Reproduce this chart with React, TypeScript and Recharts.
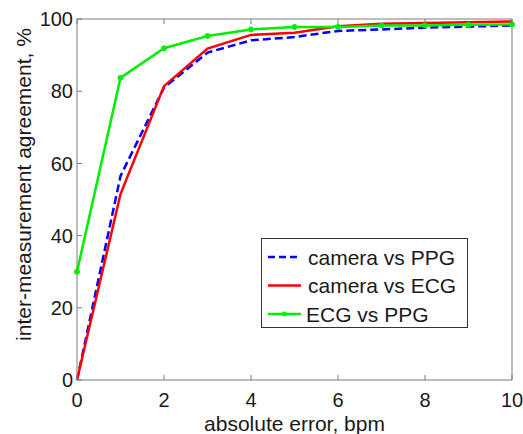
import { Line, LineChart, XAxis, YAxis } from "recharts";

const errorBpm = [0, 1, 2, 3, 4, 5, 6, 7, 8, 9, 10];
const cameraVsPpg = [0, 56.5, 81, 90.7, 94.1, 95.0, 96.7, 97.1, 97.6, 97.9, 98.2];
const cameraVsEcg = [0, 51.5, 81.4, 91.8, 95.6, 96.2, 98.0, 98.7, 98.9, 99.1, 99.3];
const ecgVsPpg = [30, 83.7, 91.9, 95.3, 97.1, 97.8, 97.8, 98.2, 98.2, 98.4, 98.5];

const xTicks = [0, 2, 4, 6, 8, 10];
const yTicks = [0, 20, 40, 60, 80, 100];

const data = errorBpm.map((x, i) => ({
  x,
  cameraVsPpg: cameraVsPpg[i],
  cameraVsEcg: cameraVsEcg[i],
  ecgVsPpg: ecgVsPpg[i],
}));

const FONT = '"Liberation Sans", Arial, Helvetica, sans-serif';
const AXIS = "#7a7a7a";
const TEXT = "#1a1a1a";
const TICK_LEN = 5;

const BottomTick = ({ x, y, payload }: any) => (
  <g>
    <line x1={x} y1={y} x2={x} y2={y - TICK_LEN} stroke={AXIS} />
    <text x={x} y={y + 27} textAnchor="middle" fill={TEXT} fontSize={20} fontFamily={FONT}>
      {payload.value}
    </text>
  </g>
);

const TopTick = ({ x, y }: any) => (
  <line x1={x} y1={y} x2={x} y2={y + TICK_LEN} stroke={AXIS} />
);

const LeftTick = ({ x, y, payload }: any) => (
  <g>
    <line x1={x} y1={y} x2={x + TICK_LEN} y2={y} stroke={AXIS} />
    <text x={x - 4} y={y} dy="0.36em" textAnchor="end" fill={TEXT} fontSize={20} fontFamily={FONT}>
      {payload.value}
    </text>
  </g>
);

const RightTick = ({ x, y }: any) => (
  <line x1={x} y1={y} x2={x - TICK_LEN} y2={y} stroke={AXIS} />
);

const legendItems = [
  { name: "camera vs PPG", color: "#0000ff", dash: "7 4", dot: false },
  { name: "camera vs ECG", color: "#ff0000", dash: undefined, dot: false },
  { name: "ECG vs PPG", color: "#00ee00", dash: undefined, dot: true },
];

const LegendBox = () => (
  <svg width={207} height={90} style={{ display: "block" }}>
    <rect x={0.5} y={0.5} width={206} height={89} fill="#fff" stroke="#333" />
    {legendItems.map((item, i) => {
      const cy = 19 + i * 28.5;
      return (
        <g key={item.name}>
          <line
            x1={7}
            y1={cy}
            x2={40}
            y2={cy}
            stroke={item.color}
            strokeWidth={2.5}
            strokeDasharray={item.dash}
          />
          {item.dot && <circle cx={23.5} cy={cy} r={2.5} fill={item.color} />}
          <text x={i === 2 ? 45 : 47} y={cy} dy="0.36em" fill={TEXT} fontSize={21} fontFamily={FONT}>
            {item.name}
          </text>
        </g>
      );
    })}
  </svg>
);

export default function App() {
  return (
    <div style={{ position: "absolute", left: 0, top: 0, width: 523, height: 434, background: "#fff" }}>
      <LineChart
        width={523}
        height={434}
        data={data}
        margin={{ top: 0, right: 0, bottom: 0, left: 0 }}
      >
        <XAxis
          xAxisId="bottom"
          dataKey="x"
          type="number"
          domain={[0, 10]}
          ticks={xTicks}
          height={54}
          tickSize={0}
          tickMargin={0}
          tickLine={false}
          axisLine={{ stroke: AXIS }}
          tick={<BottomTick />}
          label={{
            value: "absolute error, bpm",
            position: "insideBottom",
            offset: 3,
            fill: TEXT,
            fontSize: 21,
            fontFamily: FONT,
          }}
        />
        <XAxis
          xAxisId="top"
          orientation="top"
          dataKey="x"
          type="number"
          domain={[0, 10]}
          ticks={xTicks}
          height={19}
          tickSize={0}
          tickMargin={0}
          tickLine={false}
          axisLine={{ stroke: AXIS }}
          tick={<TopTick />}
        />
        <YAxis
          yAxisId="left"
          type="number"
          domain={[0, 100]}
          ticks={yTicks}
          width={77}
          tickSize={0}
          tickMargin={0}
          tickLine={false}
          axisLine={{ stroke: AXIS }}
          tick={<LeftTick />}
          label={{
            value: "inter-measurement agreement, %",
            position: "insideLeft",
            content: ({ viewBox }: any) => {
              const lx = viewBox.x + 23;
              const ly = viewBox.y + viewBox.height / 2 - 15;
              return (
                <text
                  x={lx}
                  y={ly}
                  transform={`rotate(-90 ${lx} ${ly})`}
                  textAnchor="middle"
                  dominantBaseline="central"
                  fill={TEXT}
                  fontSize={21}
                  fontFamily={FONT}
                >
                  inter-measurement agreement, %
                </text>
              );
            },
          }}
        />
        <YAxis
          yAxisId="right"
          orientation="right"
          type="number"
          domain={[0, 100]}
          ticks={yTicks}
          width={11}
          tickSize={0}
          tickMargin={0}
          tickLine={false}
          axisLine={{ stroke: AXIS }}
          tick={<RightTick />}
        />
        <Line
          xAxisId="bottom"
          yAxisId="left"
          type="linear"
          dataKey="cameraVsPpg"
          name="camera vs PPG"
          stroke="#0000ff"
          strokeWidth={2.5}
          strokeDasharray="8 4"
          dot={false}
          isAnimationActive={false}
        />
        <Line
          xAxisId="bottom"
          yAxisId="left"
          type="linear"
          dataKey="cameraVsEcg"
          name="camera vs ECG"
          stroke="#ff0000"
          strokeWidth={2.5}
          dot={false}
          isAnimationActive={false}
        />
        <Line
          xAxisId="bottom"
          yAxisId="left"
          type="linear"
          dataKey="ecgVsPpg"
          name="ECG vs PPG"
          stroke="#00ee00"
          strokeWidth={2.5}
          dot={{ r: 2.5, fill: "#00ee00", stroke: "#00ee00", strokeWidth: 1 }}
          isAnimationActive={false}
        />
      </LineChart>
      <div style={{ position: "absolute", left: 261, top: 238 }}>
        <LegendBox />
      </div>
    </div>
  );
}
